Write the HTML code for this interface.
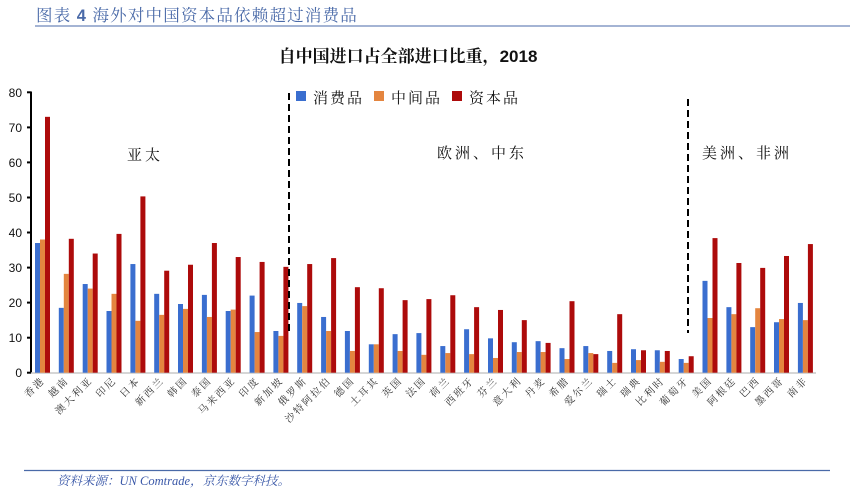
<!DOCTYPE html>
<html><head><meta charset="utf-8"><style>
body{margin:0;background:#fff;}
svg{display:block;font-family:"Liberation Sans","Noto Sans CJK SC",sans-serif;}
.b{fill:#3a6ecf}.o{fill:#e4853f}.r{fill:#ad0b0b}
.xl{font-size:10px;fill:#333;letter-spacing:2px;font-family:"Liberation Serif","Noto Serif CJK SC",serif;}
.yl{font-size:12px;fill:#111;}
</style></head><body>
<svg width="850" height="493" viewBox="0 0 850 493">
<text x="36" y="21" font-size="16.5" fill="#4a6aa8" font-family="Liberation Serif,Noto Serif CJK SC,serif" letter-spacing="1.2">图表 <tspan font-family="Liberation Sans" font-weight="bold">4</tspan> 海外对中国资本品依赖超过消费品</text>
<line x1="35" y1="26" x2="850" y2="26" stroke="#4a6aa8" stroke-width="1"/>
<text x="408" y="62" font-size="17" font-weight="bold" text-anchor="middle" fill="#111" font-family="Liberation Sans,Noto Serif CJK SC,serif">自中国进口占全部进口比重，2018</text>

<g stroke="#000" stroke-width="2">
<line x1="31" y1="91.5" x2="31" y2="373.5"/>
<line x1="27" y1="92.3" x2="31" y2="92.3"/><line x1="27" y1="127.4" x2="31" y2="127.4"/>
<line x1="27" y1="162.4" x2="31" y2="162.4"/><line x1="27" y1="197.5" x2="31" y2="197.5"/>
<line x1="27" y1="232.5" x2="31" y2="232.5"/><line x1="27" y1="267.6" x2="31" y2="267.6"/>
<line x1="27" y1="302.6" x2="31" y2="302.6"/><line x1="27" y1="337.7" x2="31" y2="337.7"/>
<line x1="27" y1="372.7" x2="31" y2="372.7"/>
</g>
<g class="yl" text-anchor="end">
<text x="22" y="97">80</text><text x="22" y="132">70</text><text x="22" y="167">60</text>
<text x="22" y="202">50</text><text x="22" y="237">40</text><text x="22" y="272">30</text>
<text x="22" y="307">20</text><text x="22" y="342">10</text><text x="22" y="377">0</text>
</g>
<line x1="31" y1="373" x2="816" y2="373" stroke="#c8c8c8" stroke-width="1.5"/>

<g transform="translate(0,372.7) scale(1,-3.505)">
<rect class="b" x="35" width="5" height="37"/><rect class="o" x="40" width="5" height="38"/><rect class="r" x="45" width="5" height="73"/>
<rect class="b" x="58.8" width="5" height="18.5"/><rect class="o" x="63.8" width="5" height="28.2"/><rect class="r" x="68.8" width="5" height="38.2"/>
<rect class="b" x="82.7" width="5" height="25.3"/><rect class="o" x="87.7" width="5" height="24"/><rect class="r" x="92.7" width="5" height="34"/>
<rect class="b" x="106.5" width="5" height="17.6"/><rect class="o" x="111.5" width="5" height="22.5"/><rect class="r" x="116.5" width="5" height="39.6"/>
<rect class="b" x="130.4" width="5" height="31"/><rect class="o" x="135.4" width="5" height="14.8"/><rect class="r" x="140.4" width="5" height="50.3"/>
<rect class="b" x="154.2" width="5" height="22.5"/><rect class="o" x="159.2" width="5" height="16.5"/><rect class="r" x="164.2" width="5" height="29.1"/>
<rect class="b" x="178" width="5" height="19.6"/><rect class="o" x="183" width="5" height="18.2"/><rect class="r" x="188" width="5" height="30.8"/>
<rect class="b" x="201.9" width="5" height="22.2"/><rect class="o" x="206.9" width="5" height="15.9"/><rect class="r" x="211.9" width="5" height="37"/>
<rect class="b" x="225.7" width="5" height="17.6"/><rect class="o" x="230.7" width="5" height="18"/><rect class="r" x="235.7" width="5" height="33"/>
<rect class="b" x="249.6" width="5" height="22"/><rect class="o" x="254.6" width="5" height="11.6"/><rect class="r" x="259.6" width="5" height="31.6"/>
<rect class="b" x="273.4" width="5" height="11.9"/><rect class="o" x="278.4" width="5" height="10.5"/><rect class="r" x="283.4" width="5" height="30.2"/>
<rect class="b" x="297.2" width="5" height="19.9"/><rect class="o" x="302.2" width="5" height="19"/><rect class="r" x="307.2" width="5" height="31"/>
<rect class="b" x="321.1" width="5" height="15.9"/><rect class="o" x="326.1" width="5" height="11.9"/><rect class="r" x="331.1" width="5" height="32.7"/>
<rect class="b" x="344.9" width="5" height="11.9"/><rect class="o" x="349.9" width="5" height="6.2"/><rect class="r" x="354.9" width="5" height="24.4"/>
<rect class="b" x="368.8" width="5" height="8.1"/><rect class="o" x="373.8" width="5" height="8.1"/><rect class="r" x="378.8" width="5" height="24.1"/>
<rect class="b" x="392.6" width="5" height="11"/><rect class="o" x="397.6" width="5" height="6.2"/><rect class="r" x="402.6" width="5" height="20.7"/>
<rect class="b" x="416.4" width="5" height="11.3"/><rect class="o" x="421.4" width="5" height="5.1"/><rect class="r" x="426.4" width="5" height="21"/>
<rect class="b" x="440.3" width="5" height="7.6"/><rect class="o" x="445.3" width="5" height="5.6"/><rect class="r" x="450.3" width="5" height="22.1"/>
<rect class="b" x="464.1" width="5" height="12.4"/><rect class="o" x="469.1" width="5" height="5.3"/><rect class="r" x="474.1" width="5" height="18.7"/>
<rect class="b" x="488" width="5" height="9.8"/><rect class="o" x="493" width="5" height="4.2"/><rect class="r" x="498" width="5" height="17.9"/>
<rect class="b" x="511.8" width="5" height="8.7"/><rect class="o" x="516.8" width="5" height="5.9"/><rect class="r" x="521.8" width="5" height="15"/>
<rect class="b" x="535.6" width="5" height="9"/><rect class="o" x="540.6" width="5" height="5.9"/><rect class="r" x="545.6" width="5" height="8.5"/>
<rect class="b" x="559.5" width="5" height="7"/><rect class="o" x="564.5" width="5" height="3.9"/><rect class="r" x="569.5" width="5" height="20.4"/>
<rect class="b" x="583.3" width="5" height="7.6"/><rect class="o" x="588.3" width="5" height="5.6"/><rect class="r" x="593.3" width="5" height="5.3"/>
<rect class="b" x="607.2" width="5" height="6.2"/><rect class="o" x="612.2" width="5" height="2.8"/><rect class="r" x="617.2" width="5" height="16.7"/>
<rect class="b" x="631" width="5" height="6.7"/><rect class="o" x="636" width="5" height="3.6"/><rect class="r" x="641" width="5" height="6.4"/>
<rect class="b" x="654.8" width="5" height="6.4"/><rect class="o" x="659.8" width="5" height="3.1"/><rect class="r" x="664.8" width="5" height="6.2"/>
<rect class="b" x="678.7" width="5" height="3.9"/><rect class="o" x="683.7" width="5" height="2.8"/><rect class="r" x="688.7" width="5" height="4.7"/>
<rect class="b" x="702.5" width="5" height="26.2"/><rect class="o" x="707.5" width="5" height="15.6"/><rect class="r" x="712.5" width="5" height="38.4"/>
<rect class="b" x="726.4" width="5" height="18.7"/><rect class="o" x="731.4" width="5" height="16.7"/><rect class="r" x="736.4" width="5" height="31.3"/>
<rect class="b" x="750.2" width="5" height="13"/><rect class="o" x="755.2" width="5" height="18.4"/><rect class="r" x="760.2" width="5" height="29.9"/>
<rect class="b" x="774" width="5" height="14.4"/><rect class="o" x="779" width="5" height="15.3"/><rect class="r" x="784" width="5" height="33.3"/>
<rect class="b" x="797.9" width="5" height="19.9"/><rect class="o" x="802.9" width="5" height="15"/><rect class="r" x="807.9" width="5" height="36.7"/>
</g>

<g stroke="#000" stroke-width="2" stroke-dasharray="7,4">
<line x1="289" y1="93" x2="289" y2="333"/>
<line x1="688" y1="99" x2="688" y2="333"/>
</g>

<g font-size="15" fill="#111" font-family="Liberation Serif,Noto Serif CJK SC,serif">
<rect x="296" y="91" width="10" height="10" class="b"/><text x="313" y="103" letter-spacing="2">消费品</text>
<rect x="374" y="91" width="10" height="10" class="o"/><text x="391" y="103" letter-spacing="2">中间品</text>
<rect x="452" y="91" width="10" height="10" class="r"/><text x="469" y="103" letter-spacing="2">资本品</text>
<text x="127" y="160" letter-spacing="3">亚太</text>
<text x="437" y="158" letter-spacing="3">欧洲、中东</text>
<text x="702" y="158" letter-spacing="3">美洲、非洲</text>
</g>

<g class="xl" text-anchor="end">
<text transform="translate(45.5,381) rotate(-45)">香港</text>
<text transform="translate(69.3,381) rotate(-45)">越南</text>
<text transform="translate(93.2,381) rotate(-45)">澳大利亚</text>
<text transform="translate(117,381) rotate(-45)">印尼</text>
<text transform="translate(140.9,381) rotate(-45)">日本</text>
<text transform="translate(164.7,381) rotate(-45)">新西兰</text>
<text transform="translate(188.5,381) rotate(-45)">韩国</text>
<text transform="translate(212.4,381) rotate(-45)">泰国</text>
<text transform="translate(236.2,381) rotate(-45)">马来西亚</text>
<text transform="translate(260.1,381) rotate(-45)">印度</text>
<text transform="translate(283.9,381) rotate(-45)">新加坡</text>
<text transform="translate(307.7,381) rotate(-45)">俄罗斯</text>
<text transform="translate(331.6,381) rotate(-45)">沙特阿拉伯</text>
<text transform="translate(355.4,381) rotate(-45)">德国</text>
<text transform="translate(379.3,381) rotate(-45)">土耳其</text>
<text transform="translate(403.1,381) rotate(-45)">英国</text>
<text transform="translate(426.9,381) rotate(-45)">法国</text>
<text transform="translate(450.8,381) rotate(-45)">荷兰</text>
<text transform="translate(474.6,381) rotate(-45)">西班牙</text>
<text transform="translate(498.5,381) rotate(-45)">芬兰</text>
<text transform="translate(522.3,381) rotate(-45)">意大利</text>
<text transform="translate(546.1,381) rotate(-45)">丹麦</text>
<text transform="translate(570,381) rotate(-45)">希腊</text>
<text transform="translate(593.8,381) rotate(-45)">爱尔兰</text>
<text transform="translate(617.7,381) rotate(-45)">瑞士</text>
<text transform="translate(641.5,381) rotate(-45)">瑞典</text>
<text transform="translate(665.3,381) rotate(-45)">比利时</text>
<text transform="translate(689.2,381) rotate(-45)">葡萄牙</text>
<text transform="translate(713,381) rotate(-45)">美国</text>
<text transform="translate(736.9,381) rotate(-45)">阿根廷</text>
<text transform="translate(760.7,381) rotate(-45)">巴西</text>
<text transform="translate(784.5,381) rotate(-45)">墨西哥</text>
<text transform="translate(808.4,381) rotate(-45)">南非</text>
</g>

<line x1="24" y1="470.5" x2="830" y2="470.5" stroke="#4a6aa8" stroke-width="1.2"/>
<text x="57" y="485" font-size="12.5" font-style="italic" fill="#3a58a8" font-family="Liberation Serif,Noto Serif CJK SC,serif">资料来源：UN Comtrade，京东数字科技。</text>
</svg>
</body></html>
